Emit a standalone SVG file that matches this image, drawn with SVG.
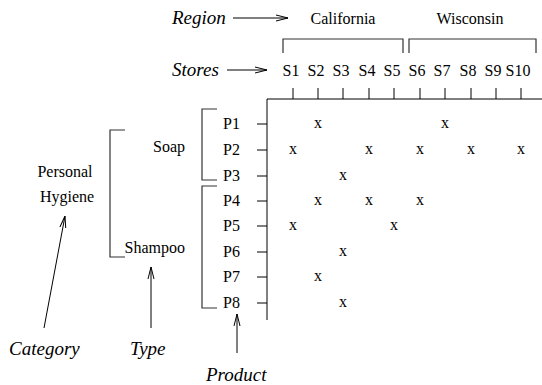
<svg xmlns="http://www.w3.org/2000/svg" width="542" height="385" viewBox="0 0 542 385">
<style>
.t{font-family:"Liberation Serif",serif;font-size:16px;fill:#000}
.i{font-family:"Liberation Serif",serif;font-size:19px;font-style:italic;fill:#000}
.m{text-anchor:middle}
.e{text-anchor:end}
.ln{stroke:#000;stroke-width:1;fill:none}
.br{stroke:#333;stroke-width:1.2;fill:none}
</style>
<defs>
<marker id="ah" viewBox="0 0 12 8" refX="12" refY="4" markerWidth="12" markerHeight="8" markerUnits="userSpaceOnUse" orient="auto">
<path d="M0,1 L12,4 L0,7" fill="none" stroke="#000" stroke-width="1"/>
</marker>
</defs>
<g id="labels">
<text class="i" x="172" y="24">Region</text>
<text class="i" x="172" y="76">Stores</text>
<text class="t m" x="343" y="24">California</text>
<text class="t m" x="470" y="24">Wisconsin</text>
<text class="i" x="9" y="355">Category</text>
<text class="i" x="130" y="355">Type</text>
<text class="i" x="206" y="381">Product</text>
</g>
<g id="stores" class="t m">
<text x="291" y="76">S1</text><text x="316" y="76">S2</text><text x="341" y="76">S3</text><text x="367" y="76">S4</text><text x="392" y="76">S5</text><text x="417" y="76">S6</text><text x="442" y="76">S7</text><text x="468" y="76">S8</text><text x="493" y="76">S9</text><text x="518" y="76">S10</text>
</g>
<g id="products" class="t">
<text x="223" y="129">P1</text><text x="223" y="155">P2</text><text x="223" y="181">P3</text><text x="223" y="206">P4</text><text x="223" y="231">P5</text><text x="223" y="257">P6</text><text x="223" y="282">P7</text><text x="223" y="308">P8</text>
</g>
<g id="types" class="t">
<text class="e" x="185" y="152">Soap</text>
<text class="e" x="185" y="253">Shampoo</text>
<text class="m" x="65" y="177">Personal</text>
<text class="m" x="67" y="202">Hygiene</text>
</g>
<g id="brackets" class="br">
<path d="M283,53 V39 H403 V53"/>
<path d="M409,53 V39 H536 V53"/>
<path d="M217,109 H202 V180 H217"/>
<path d="M217,186 H202 V308 H217"/>
<path d="M125,130 H110 V257 H125"/>
</g>
<g id="axes" class="ln">
<path d="M267,320 V99 H542"/>
<path d="M293,88V99 M318,88V99 M343,88V99 M369,88V99 M394,88V99 M420,88V99 M445,88V99 M471,88V99 M496,88V99 M521,88V99"/>
<path d="M257,124H267 M257,150H267 M257,176H267 M257,201H267 M257,226H267 M257,252H267 M257,277H267 M257,303H267"/>
</g>
<g id="marks" class="t m">
<text x="318" y="128">x</text><text x="445" y="128">x</text>
<text x="293" y="154">x</text><text x="369" y="154">x</text><text x="420" y="154">x</text><text x="471" y="154">x</text><text x="521" y="154">x</text>
<text x="343" y="180">x</text>
<text x="318" y="205">x</text><text x="369" y="205">x</text><text x="420" y="205">x</text>
<text x="293" y="230">x</text><text x="394" y="230">x</text>
<text x="343" y="256">x</text>
<text x="318" y="281">x</text>
<text x="343" y="307">x</text>
</g>
<g id="connectors" class="ln">
<line x1="233" y1="18" x2="288" y2="18" marker-end="url(#ah)"/>
<line x1="227" y1="70" x2="267" y2="70" marker-end="url(#ah)"/>
<line x1="44" y1="328" x2="65" y2="216" marker-end="url(#ah)"/>
<line x1="151" y1="328" x2="151" y2="267" marker-end="url(#ah)"/>
<line x1="237" y1="353" x2="237" y2="314" marker-end="url(#ah)"/>
</g>
</svg>
